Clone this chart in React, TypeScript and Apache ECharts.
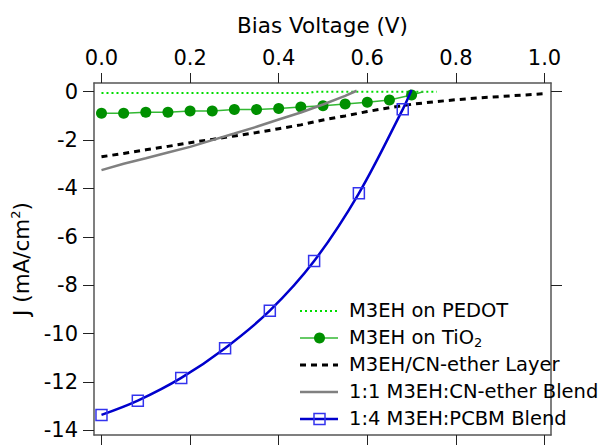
import React, { useEffect, useRef } from "react";
import * as echarts from "echarts";

// ---- tick values ----
const xTicks = [0, 0.2, 0.4, 0.6, 0.8, 1.0];
const yTicks = [0, -2, -4, -6, -8, -10, -12, -14];
const rightTicks = [0, -8];

// ---- series data (Bias voltage V, current density J mA/cm2) ----
const pedotV = [0, 0.1, 0.2, 0.3, 0.4, 0.47, 0.48, 0.55, 0.65, 0.757];
const pedotJ = [-0.05, -0.05, -0.05, -0.05, -0.05, -0.05, 0.0, 0.0, 0.0, 0.0];

const tio2V = [0, 0.05, 0.1, 0.15, 0.2, 0.25, 0.3, 0.35, 0.4, 0.45, 0.5, 0.55, 0.6, 0.65, 0.7];
const tio2J = [-0.89, -0.89, -0.85, -0.85, -0.8, -0.8, -0.74, -0.74, -0.69, -0.63, -0.58, -0.51, -0.44, -0.34, -0.14];
const tio2EndV = 0.726;
const tio2EndJ = 0.0;

const layerV = [0, 0.05, 0.1, 0.15, 0.2, 0.25, 0.3, 0.35, 0.4, 0.45, 0.5, 0.55, 0.6, 0.65, 0.7, 0.75, 0.8, 0.85, 0.9, 0.95, 1.0];
const layerJ = [-2.69, -2.55, -2.4, -2.26, -2.11, -1.97, -1.83, -1.69, -1.53, -1.37, -1.17, -1.0, -0.82, -0.66, -0.52, -0.42, -0.33, -0.26, -0.2, -0.14, -0.08];

const blendV = [0, 0.05, 0.1, 0.15, 0.2, 0.25, 0.3, 0.35, 0.4, 0.45, 0.5, 0.55, 0.576];
const blendJ = [-3.24, -2.98, -2.75, -2.51, -2.28, -2.0, -1.73, -1.45, -1.15, -0.86, -0.53, -0.17, 0.04];

const pcbmV = [0, 0.082, 0.18, 0.279, 0.38, 0.48, 0.581, 0.68];
const pcbmJ = [-13.36, -12.77, -11.83, -10.6, -9.05, -7.0, -4.2, -0.73];
const pcbmEndV = 0.70;
const pcbmEndJ = 0.07;

const legendLabels = [
  "M3EH on PEDOT",
  "{n|M3EH on TiO}{sub|2}",
  "M3EH/CN-ether Layer",
  "1:1 M3EH:CN-ether Blend",
  "1:4 M3EH:PCBM Blend",
];

const FONT = "DejaVu Sans";
const X_MIN = -0.0169;
const X_MAX = 1.0147;
const Y_MAX = 0.36;
const Y_MIN = -14.19;

const C_PEDOT = "#00dd00";
const C_TIO2_LINE = "#33b833";
const C_TIO2_MARK = "#009000";
const C_LAYER = "#000000";
const C_BLEND = "#808080";
const C_PCBM = "#0000cc";
const C_PCBM_MARK = "#3333ee";

const zip = (a: number[], b: number[]) => a.map((v, i) => [v, b[i]]);

function buildLegend() {
  const g: any[] = [];
  const x1 = 300;
  const x2 = 338;
  const xt = 349;
  const y0 = 310;
  const dy = 27;
  const rows = [
    { stroke: C_PEDOT, lineWidth: 2, lineDash: [2, 3] },
    { stroke: C_TIO2_LINE, lineWidth: 1.5, lineDash: null },
    { stroke: C_LAYER, lineWidth: 3, lineDash: [6, 5] },
    { stroke: C_BLEND, lineWidth: 2.5, lineDash: null },
    { stroke: C_PCBM, lineWidth: 2.5, lineDash: null },
  ];
  rows.forEach((r, i) => {
    const y = y0 + dy * i + 1;
    const style: any = { stroke: r.stroke, lineWidth: r.lineWidth };
    if (r.lineDash) style.lineDash = r.lineDash;
    g.push({ type: "line", shape: { x1, y1: y, x2, y2: y }, style, z: 10 });
  });
  g.push({
    type: "circle",
    shape: { cx: 319.5, cy: y0 + dy + 1, r: 5.5 },
    style: { fill: C_TIO2_MARK },
    z: 11,
  });
  g.push({
    type: "rect",
    shape: { x: 314, y: y0 + dy * 4 + 1 - 5.5, width: 11, height: 11 },
    style: { fill: "none", stroke: C_PCBM_MARK, lineWidth: 1.5 },
    z: 11,
  });
  legendLabels.forEach((t, i) => {
    const style: any = {
      text: t,
      fontFamily: FONT,
      fontSize: 19.5,
      fill: "#000",
      align: "left",
      verticalAlign: "middle",
    };
    if (i === 1) {
      style.rich = {
        n: { fontFamily: FONT, fontSize: 19.5, fill: "#000", lineHeight: 24, verticalAlign: "middle" },
        sub: { fontFamily: FONT, fontSize: 13, fill: "#000", lineHeight: 24, verticalAlign: "bottom" },
      };
    }
    g.push({ type: "text", x: xt, y: y0 + dy * i, style, z: 12 });
  });
  return g;
}

export default function App() {
  const ref = useRef<HTMLDivElement>(null);
  useEffect(() => {
    document.body.style.margin = "0";
    const chart = echarts.init(ref.current!, null, { renderer: "svg" });
    const axisLine = { show: true, onZero: false, lineStyle: { color: "#555", width: 1.5 } };
    const tickStyle = { color: "#222", width: 1 };
    const option: any = {
      animation: false,
      backgroundColor: "#fff",
      grid: { left: 94, top: 83, right: 52, bottom: 10, containLabel: false, outerBoundsMode: "none" },
      xAxis: [
        {
          type: "value",
          position: "top",
          min: X_MIN,
          max: X_MAX,
          name: "Bias Voltage (V)",
          nameLocation: "middle",
          nameGap: 47,
          nameTextStyle: { fontFamily: FONT, fontSize: 21.5, color: "#000" },
          axisLine,
          axisTick: { show: true, inside: false, length: 10, customValues: xTicks, lineStyle: tickStyle },
          axisLabel: {
            show: true,
            customValues: xTicks,
            formatter: (v: number) => v.toFixed(1),
            margin: 15,
            fontFamily: FONT,
            fontSize: 21,
            color: "#000",
          },
          splitLine: { show: false },
        },
        {
          type: "value",
          position: "bottom",
          min: X_MIN,
          max: X_MAX,
          axisLine,
          axisTick: { show: true, inside: false, length: 10, customValues: xTicks, lineStyle: tickStyle },
          axisLabel: { show: false },
          splitLine: { show: false },
        },
      ],
      yAxis: [
        {
          type: "value",
          position: "left",
          min: Y_MIN,
          max: Y_MAX,
          name: "{n|J (mA/cm}{sup|2}{n|)}",
          nameLocation: "middle",
          nameRotate: 90,
          nameGap: 57,
          nameTextStyle: {
            fontFamily: FONT,
            fontSize: 21.5,
            color: "#000",
            rich: {
              n: { fontFamily: FONT, fontSize: 21.5, color: "#000", lineHeight: 26, verticalAlign: "middle" },
              sup: { fontFamily: FONT, fontSize: 13, color: "#000", lineHeight: 26, verticalAlign: "top" },
            },
          },
          axisLine,
          axisTick: { show: true, inside: false, length: 11, customValues: yTicks, lineStyle: tickStyle },
          axisLabel: {
            show: true,
            customValues: yTicks,
            formatter: (v: number) => String(Math.round(v)),
            margin: 16,
            fontFamily: FONT,
            fontSize: 21,
            color: "#000",
          },
          splitLine: { show: false },
        },
        {
          type: "value",
          position: "right",
          min: Y_MIN,
          max: Y_MAX,
          axisLine,
          axisTick: { show: true, inside: false, length: 11, customValues: rightTicks, lineStyle: tickStyle },
          axisLabel: { show: false },
          splitLine: { show: false },
        },
      ],
      series: [
        {
          name: "M3EH on PEDOT",
          type: "line",
          xAxisIndex: 0,
          yAxisIndex: 0,
          data: zip(pedotV, pedotJ),
          symbol: "none",
          lineStyle: { color: C_PEDOT, width: 2, type: [2, 3] },
          z: 2,
        },
        {
          name: "M3EH on TiO2",
          type: "line",
          xAxisIndex: 0,
          yAxisIndex: 0,
          data: [
            ...zip(tio2V, tio2J),
            { value: [tio2EndV, tio2EndJ], symbol: "none" },
          ],
          symbol: "circle",
          symbolSize: 11,
          showAllSymbol: true,
          itemStyle: { color: C_TIO2_MARK },
          lineStyle: { color: C_TIO2_LINE, width: 1.5 },
          z: 3,
        },
        {
          name: "M3EH/CN-ether Layer",
          type: "line",
          xAxisIndex: 0,
          yAxisIndex: 0,
          data: zip(layerV, layerJ),
          symbol: "none",
          lineStyle: { color: C_LAYER, width: 3, type: [6, 5] },
          z: 4,
        },
        {
          name: "1:1 M3EH:CN-ether Blend",
          type: "line",
          xAxisIndex: 0,
          yAxisIndex: 0,
          data: zip(blendV, blendJ),
          symbol: "none",
          lineStyle: { color: C_BLEND, width: 2.5 },
          z: 5,
        },
        {
          name: "1:4 M3EH:PCBM Blend",
          type: "line",
          xAxisIndex: 0,
          yAxisIndex: 0,
          data: [
            ...zip(pcbmV, pcbmJ),
            { value: [pcbmEndV, pcbmEndJ], symbol: "none" },
          ],
          smooth: 0.35,
          symbol: "rect",
          symbolSize: 11,
          showAllSymbol: true,
          itemStyle: { color: "rgba(0,0,0,0)", borderColor: C_PCBM_MARK, borderWidth: 1.5 },
          lineStyle: { color: C_PCBM, width: 2.5 },
          z: 6,
        },
      ],
      graphic: buildLegend(),
    };
    chart.setOption(option);
    return () => chart.dispose();
  }, []);
  return <div ref={ref} style={{ width: 603, height: 445 }} />;
}
